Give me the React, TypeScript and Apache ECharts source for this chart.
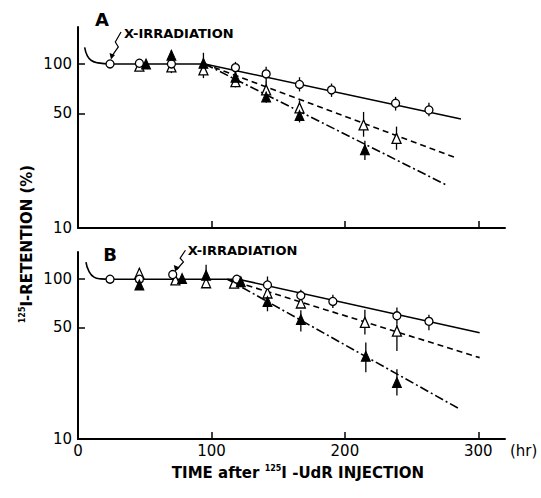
import React, { useEffect, useRef } from 'react';
import * as echarts from 'echarts';

// ---- tick values ----
const xLabelValues = [0, 100, 200, 300];
const xTickValues = [100, 200, 300];
const yTickValues = [10, 50, 100];

// ---- Panel A ----
const curveA = [[5, 126], [7, 112], [10, 105], [15, 101.5], [24, 100]];
const solidA = [[24, 100], [95, 100], [287, 46.2]];
const dashedA = [[95, 100], [282, 27]];
const dashDotA = [[95, 100], [276, 18.3]];
const circlesA = [[24, 100], [46, 101], [70, 100], [118, 95], [141, 87], [166, 75], [190, 69.5], [238, 57.6], [263, 52.4]];
const openTriA = [[46, 97], [70, 96], [94, 92], [118, 78], [141, 69.5], [166, 54], [214, 42.5], [238.7, 35.2]];
const filledTriA = [[51, 100], [70, 113], [94, 101], [118, 83], [141, 63], [166, 48.5], [215, 30]];
const errorA = [[70, 88, 121], [94, 82, 117], [118, 86, 103], [118, 72, 90], [141, 77, 96], [141, 58, 78], [166, 68, 83], [166, 44, 60], [190, 63, 76], [214, 36, 51], [215, 26, 34], [238, 52, 63], [238.7, 30, 41.5], [263, 48, 58]];

// ---- Panel B ----
const curveB = [[6, 128], [8, 113], [12, 103], [17, 100.5], [24, 100]];
const solidB = [[24, 100], [120, 100], [301, 46.2]];
const dashedB = [[112, 100], [301, 32.3]];
const dashDotB = [[112, 100], [286, 15.4]];
const circlesB = [[24, 100], [46, 100], [71, 107], [119, 100], [142, 92], [167, 79], [191, 72.6], [239, 59], [263, 54.5]];
const openTriB = [[46, 109], [73, 99], [96, 95], [117, 94.5], [142, 82], [167, 71], [215, 53.7], [239, 47.3]];
const filledTriB = [[46, 92], [78, 101], [96, 106], [122, 96.6], [142, 72.6], [167, 56], [215.7, 33], [239, 22.6]];
const errorB = [[46, 95, 117], [96, 88, 123], [119, 90, 106], [142, 84, 104], [142, 63, 80], [167, 72.6, 86], [167, 47, 64], [191, 66, 80], [239, 52, 66.5], [263, 48, 60], [215, 45, 64.5], [239, 35.5, 52], [215.7, 26.2, 40.2], [239, 18.7, 27.3]];

const FONT = '"DejaVu Sans", "Liberation Sans", sans-serif';

function panelSeries(idx: number, curve: number[][], solid: number[][], dashed: number[][], dashDot: number[][],
  circles: number[][], openTri: number[][], filledTri: number[][], errors: number[][]): any[] {
  const common = { xAxisIndex: idx, yAxisIndex: idx, silent: true };
  const lw = 1.6;
  return [
    { ...common, type: 'line', data: curve, smooth: 0.5, symbol: 'none', lineStyle: { color: '#000', width: lw }, z: 2 },
    { ...common, type: 'line', data: solid, symbol: 'none', lineStyle: { color: '#000', width: lw }, z: 2 },
    { ...common, type: 'line', data: dashed, symbol: 'none', lineStyle: { color: '#000', width: lw, type: [6, 4] }, z: 2 },
    { ...common, type: 'line', data: dashDot, symbol: 'none', lineStyle: { color: '#000', width: lw, type: [9, 3, 2, 3] }, z: 2 },
    {
      ...common, type: 'custom', data: errors, encode: { x: 0, y: [1, 2] }, z: 3,
      renderItem: (params: any, api: any) => {
        const x = api.value(0);
        const a = api.coord([x, api.value(1)]);
        const b = api.coord([x, api.value(2)]);
        return { type: 'line', shape: { x1: a[0], y1: a[1], x2: b[0], y2: b[1] }, style: { stroke: '#000', lineWidth: 1.3 } };
      },
    },
    { ...common, type: 'scatter', data: openTri, symbol: 'triangle', symbolSize: [9, 10], itemStyle: { color: '#fff', borderColor: '#000', borderWidth: 1.3, opacity: 1 }, z: 4 },
    { ...common, type: 'scatter', data: circles, symbol: 'circle', symbolSize: 8, itemStyle: { color: '#fff', borderColor: '#000', borderWidth: 1.3, opacity: 1 }, z: 5 },
    { ...common, type: 'scatter', data: filledTri, symbol: 'triangle', symbolSize: [9, 10], itemStyle: { color: '#000', borderColor: '#000', borderWidth: 1, opacity: 1 }, z: 6 },
  ];
}

function xAxisDef(idx: number, showLabels: boolean): any {
  return {
    type: 'value', gridIndex: idx, min: 0, max: 320,
    axisLine: { show: true, lineStyle: { color: '#000', width: 2 } },
    axisTick: { show: true, inside: true, length: 7, customValues: xTickValues, lineStyle: { color: '#000', width: 1.5 } },
    axisLabel: { show: showLabels, customValues: xLabelValues, margin: 4, color: '#000', fontSize: 15, fontFamily: FONT },
    splitLine: { show: false },
    name: showLabels ? '(hr)' : '',
    nameLocation: 'end', nameGap: 5,
    nameTextStyle: { color: '#000', fontSize: 15, fontFamily: FONT, verticalAlign: 'top', padding: [4, 0, 0, 0] },
  };
}

function yAxisDef(idx: number, max: number): any {
  return {
    type: 'log', logBase: 10, gridIndex: idx, min: 10, max,
    axisLine: { show: true, lineStyle: { color: '#000', width: 2 } },
    axisTick: { show: true, inside: true, length: 7, customValues: [50, 100], lineStyle: { color: '#000', width: 1.5 } },
    axisLabel: { show: true, customValues: yTickValues, margin: 6, color: '#000', fontSize: 15, fontFamily: FONT },
    splitLine: { show: false },
    minorTick: { show: false },
  };
}

export default function App() {
  const ref = useRef<HTMLDivElement>(null);
  useEffect(() => {
    if (!ref.current) return;
    const chart = echarts.init(ref.current, null, { renderer: 'svg' });
    chart.setOption({
      animation: false,
      backgroundColor: '#fff',
      grid: [
        { left: 78, top: 27, width: 427, height: 201 },
        { left: 78, top: 252, width: 427, height: 187 },
      ],
      xAxis: [xAxisDef(0, false), xAxisDef(1, true)],
      yAxis: [yAxisDef(0, 168), yAxisDef(1, 148)],
      series: [
        ...panelSeries(0, curveA, solidA, dashedA, dashDotA, circlesA, openTriA, filledTriA, errorA),
        ...panelSeries(1, curveB, solidB, dashedB, dashDotB, circlesB, openTriB, filledTriB, errorB),
      ],
    });

    const tipA = chart.convertToPixel({ gridIndex: 0 } as any, [24, 100]) as number[];
    const tipB = chart.convertToPixel({ gridIndex: 1 } as any, [71, 107]) as number[];
    const arrow = (t: number[], pts: number[][], head: number[][]) => [
      { type: 'polyline', shape: { points: pts.map(p => [t[0] + p[0], t[1] + p[1]]) }, style: { stroke: '#000', lineWidth: 1.2, fill: 'none' }, z: 10 },
      { type: 'polygon', shape: { points: head.map(p => [t[0] + p[0], t[1] + p[1]]) }, style: { fill: '#000' }, z: 10 },
    ];
    const labelStyle = { fontSize: 13, fontWeight: 'bold', fontFamily: FONT, fill: '#000', align: 'left', verticalAlign: 'middle' };
    const sup = { fontSize: 8, fontWeight: 'bold', fontFamily: FONT, fill: '#000', verticalAlign: 'top', lineHeight: 17 };
    const main = { fontSize: 15, fontWeight: 'bold', fontFamily: FONT, fill: '#000', lineHeight: 17 };

    chart.setOption({
      graphic: [
        { type: 'text', x: 102, y: 19, style: { text: 'A', fontSize: 18, fontWeight: 'bold', fontFamily: FONT, fill: '#000', align: 'center', verticalAlign: 'middle' } },
        { type: 'text', x: 110, y: 254, style: { text: 'B', fontSize: 18, fontWeight: 'bold', fontFamily: FONT, fill: '#000', align: 'center', verticalAlign: 'middle' } },
        { type: 'text', x: tipA[0] + 14, y: tipA[1] - 30, style: { text: 'X-IRRADIATION', ...labelStyle } },
        { type: 'text', x: tipB[0] + 15, y: tipB[1] - 24, style: { text: 'X-IRRADIATION', ...labelStyle } },
        ...arrow(tipA, [[11, -32], [5.3, -22], [8.3, -17], [2, -8]], [[1, -4.5], [-0.5, -11], [5, -9]]),
        ...arrow(tipB, [[12.7, -24.3], [7.4, -16.3], [10.7, -12.6], [4, -5]], [[2.5, -3], [1, -9.5], [7, -7]]),
        {
          type: 'text', x: 298, y: 473,
          style: {
            text: '{m|TIME after }{s|125}{m|I -UdR INJECTION}',
            rich: { m: main, s: sup },
            align: 'center', verticalAlign: 'middle',
          },
        },
        {
          type: 'text', x: 27, y: 244, rotation: Math.PI / 2,
          style: {
            text: '{s|125}{m|I-RETENTION (%)}',
            rich: { m: main, s: sup },
            align: 'center', verticalAlign: 'middle',
          },
        },
      ],
    });

    return () => chart.dispose();
  }, []);
  return <div ref={ref} style={{ position: 'fixed', left: 0, top: 0, width: 541, height: 498, background: '#fff' }} />;
}
